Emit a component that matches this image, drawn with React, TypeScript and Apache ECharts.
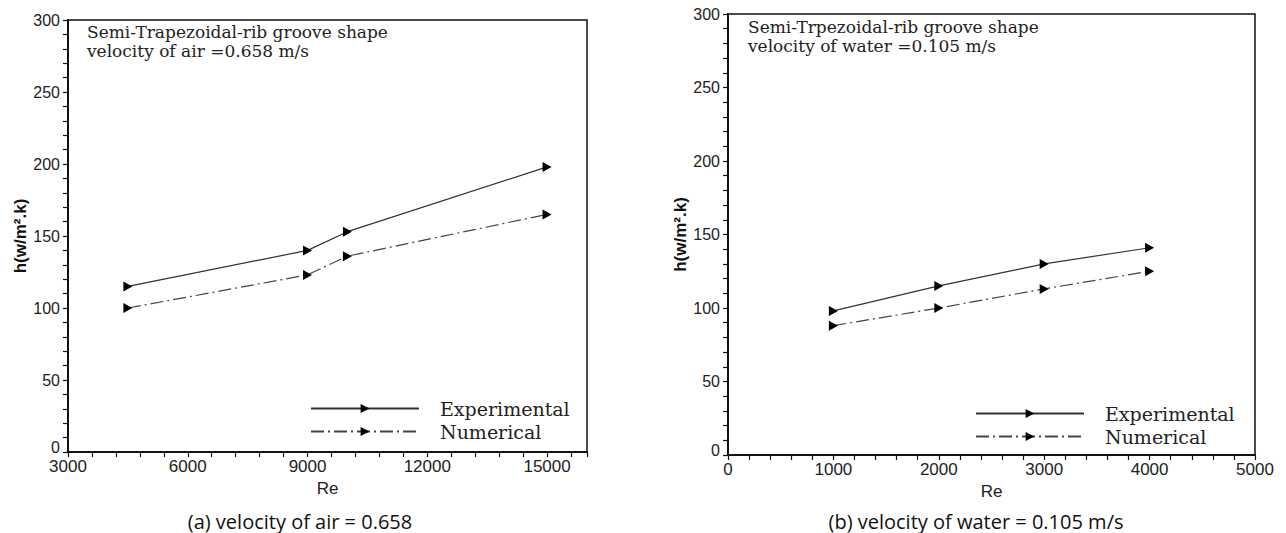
import React, { useEffect, useRef } from 'react';
import * as echarts from 'echarts';

const seriesNames = ['Experimental', 'Numerical'];
const airRe = [4500, 9000, 10000, 15000];
const airExperimental = [115, 140, 153, 198];
const airNumerical = [100, 123, 136, 165];
const waterRe = [1000, 2000, 3000, 4000];
const waterExperimental = [98, 115, 130, 141];
const waterNumerical = [88, 100, 113, 125];
const yAxisName = 'h(w/m².k)';
const xAxisName = 'Re';
const airNote = ['Semi-Trapezoidal-rib groove shape', 'velocity of air =0.658 m/s'];
const waterNote = ['Semi-Trpezoidal-rib groove shape', 'velocity of water =0.105 m/s'];
const captions = ['(a) velocity of air = 0.658', '(b) velocity of water = 0.105 m/s'];

const zip = (xs: number[], ys: number[]) => xs.map((x, i) => [x, ys[i]]);

const SANS = '"Liberation Sans", Arial, sans-serif';
const SERIF = '"DejaVu Serif", "Liberation Serif", serif';
const CAP = '"Open Sans", "Noto Sans", sans-serif';
const TRI = 'path://M0,0L10,5L0,10Z';

const axisBase = {
  axisLine: { show: true, onZero: false, lineStyle: { color: '#111', width: 2 } },
  axisTick: { show: true, inside: false, length: 5, lineStyle: { color: '#111', width: 1.2 } },
  splitLine: { show: false },
};

function makeX(grid: number, min: number, max: number, step: number, major: number, lastLabel: number, gap: number) {
  return {
    type: 'value',
    gridIndex: grid,
    min,
    max,
    interval: step,
    name: xAxisName,
    nameLocation: 'middle',
    nameGap: gap,
    nameTextStyle: { fontFamily: SANS, fontSize: 17, color: '#222' },
    ...axisBase,
    axisLabel: {
      margin: 6,
      color: '#222',
      fontFamily: SANS,
      fontSize: 17,
      formatter: (v: number) => (v % major === 0 && v <= lastLabel ? String(v) : ''),
    },
  };
}

function makeY(grid: number, gap: number) {
  return {
    type: 'value',
    gridIndex: grid,
    min: 0,
    max: 300,
    interval: 10,
    name: yAxisName,
    nameLocation: 'middle',
    nameRotate: 90,
    nameGap: gap,
    nameTextStyle: { fontFamily: SANS, fontSize: 17, fontWeight: 'bold', color: '#111' },
    ...axisBase,
    axisLabel: {
      margin: 8,
      color: '#222',
      fontFamily: SANS,
      fontSize: 16,
      formatter: (v: number) => (v === 0 ? '{z|0}' : v % 50 === 0 ? String(v) : ''),
      rich: { z: { fontFamily: SANS, fontSize: 16, color: '#222', padding: [0, 0, 9, 0] } },
    },
  };
}

function makeSeries(name: string, grid: number, data: number[][], dashed: boolean) {
  return {
    type: 'line',
    name,
    xAxisIndex: grid,
    yAxisIndex: grid,
    data,
    symbol: TRI,
    symbolSize: [9, 10],
    showSymbol: true,
    itemStyle: { color: '#000' },
    lineStyle: dashed
      ? { color: '#444', width: 1.2, type: [13, 4, 2, 4] }
      : { color: '#333', width: 1.2, type: 'solid' },
  };
}

function legendAt(left: number, top: number) {
  return {
    orient: 'vertical',
    left,
    top,
    padding: 0,
    itemWidth: 108,
    itemHeight: 11,
    itemGap: 4,
    data: seriesNames,
    selectedMode: false,
    textStyle: { fontFamily: SERIF, fontSize: 19, color: '#222', padding: [0, 0, 0, 16] },
  };
}

function note(x: number, y: number, lines: string[]) {
  return lines.map((t, i) => ({
    type: 'text',
    x,
    y: y + i * 19,
    style: { text: t, fontFamily: SERIF, fontSize: 17, fill: '#222', verticalAlign: 'middle' },
  }));
}

function caption(x: number, text: string) {
  return {
    type: 'text',
    x,
    y: 521,
    style: { text, fontFamily: CAP, fontSize: 20, fill: '#111', align: 'center', verticalAlign: 'middle' },
  };
}

export default function App() {
  const ref = useRef<HTMLDivElement>(null);
  useEffect(() => {
    if (!ref.current) return;
    const chart = echarts.init(ref.current, null, { renderer: 'svg' });
    chart.setOption({
      animation: false,
      backgroundColor: '#fff',
      grid: [
        { left: 68, top: 20, width: 519, height: 432, show: true, borderColor: '#111', borderWidth: 1.5 },
        { left: 728, top: 14, width: 527, height: 441, show: true, borderColor: '#111', borderWidth: 1.5 },
      ],
      xAxis: [makeX(0, 3000, 16000, 600, 3000, 15000, 19), makeX(1, 0, 5000, 200, 1000, 5000, 21)],
      yAxis: [makeY(0, 37), makeY(1, 31)],
      legend: [legendAt(310, 399), legendAt(975, 404)],
      series: [
        makeSeries(seriesNames[0], 0, zip(airRe, airExperimental), false),
        makeSeries(seriesNames[1], 0, zip(airRe, airNumerical), true),
        makeSeries(seriesNames[0], 1, zip(waterRe, waterExperimental), false),
        makeSeries(seriesNames[1], 1, zip(waterRe, waterNumerical), true),
      ],
      graphic: [
        ...note(87, 32, airNote),
        ...note(748, 27, waterNote),
        caption(300, captions[0]),
        caption(976, captions[1]),
      ],
    });
    return () => chart.dispose();
  }, []);
  return <div ref={ref} style={{ position: 'fixed', left: 0, top: 0, width: 1286, height: 533 }} />;
}
